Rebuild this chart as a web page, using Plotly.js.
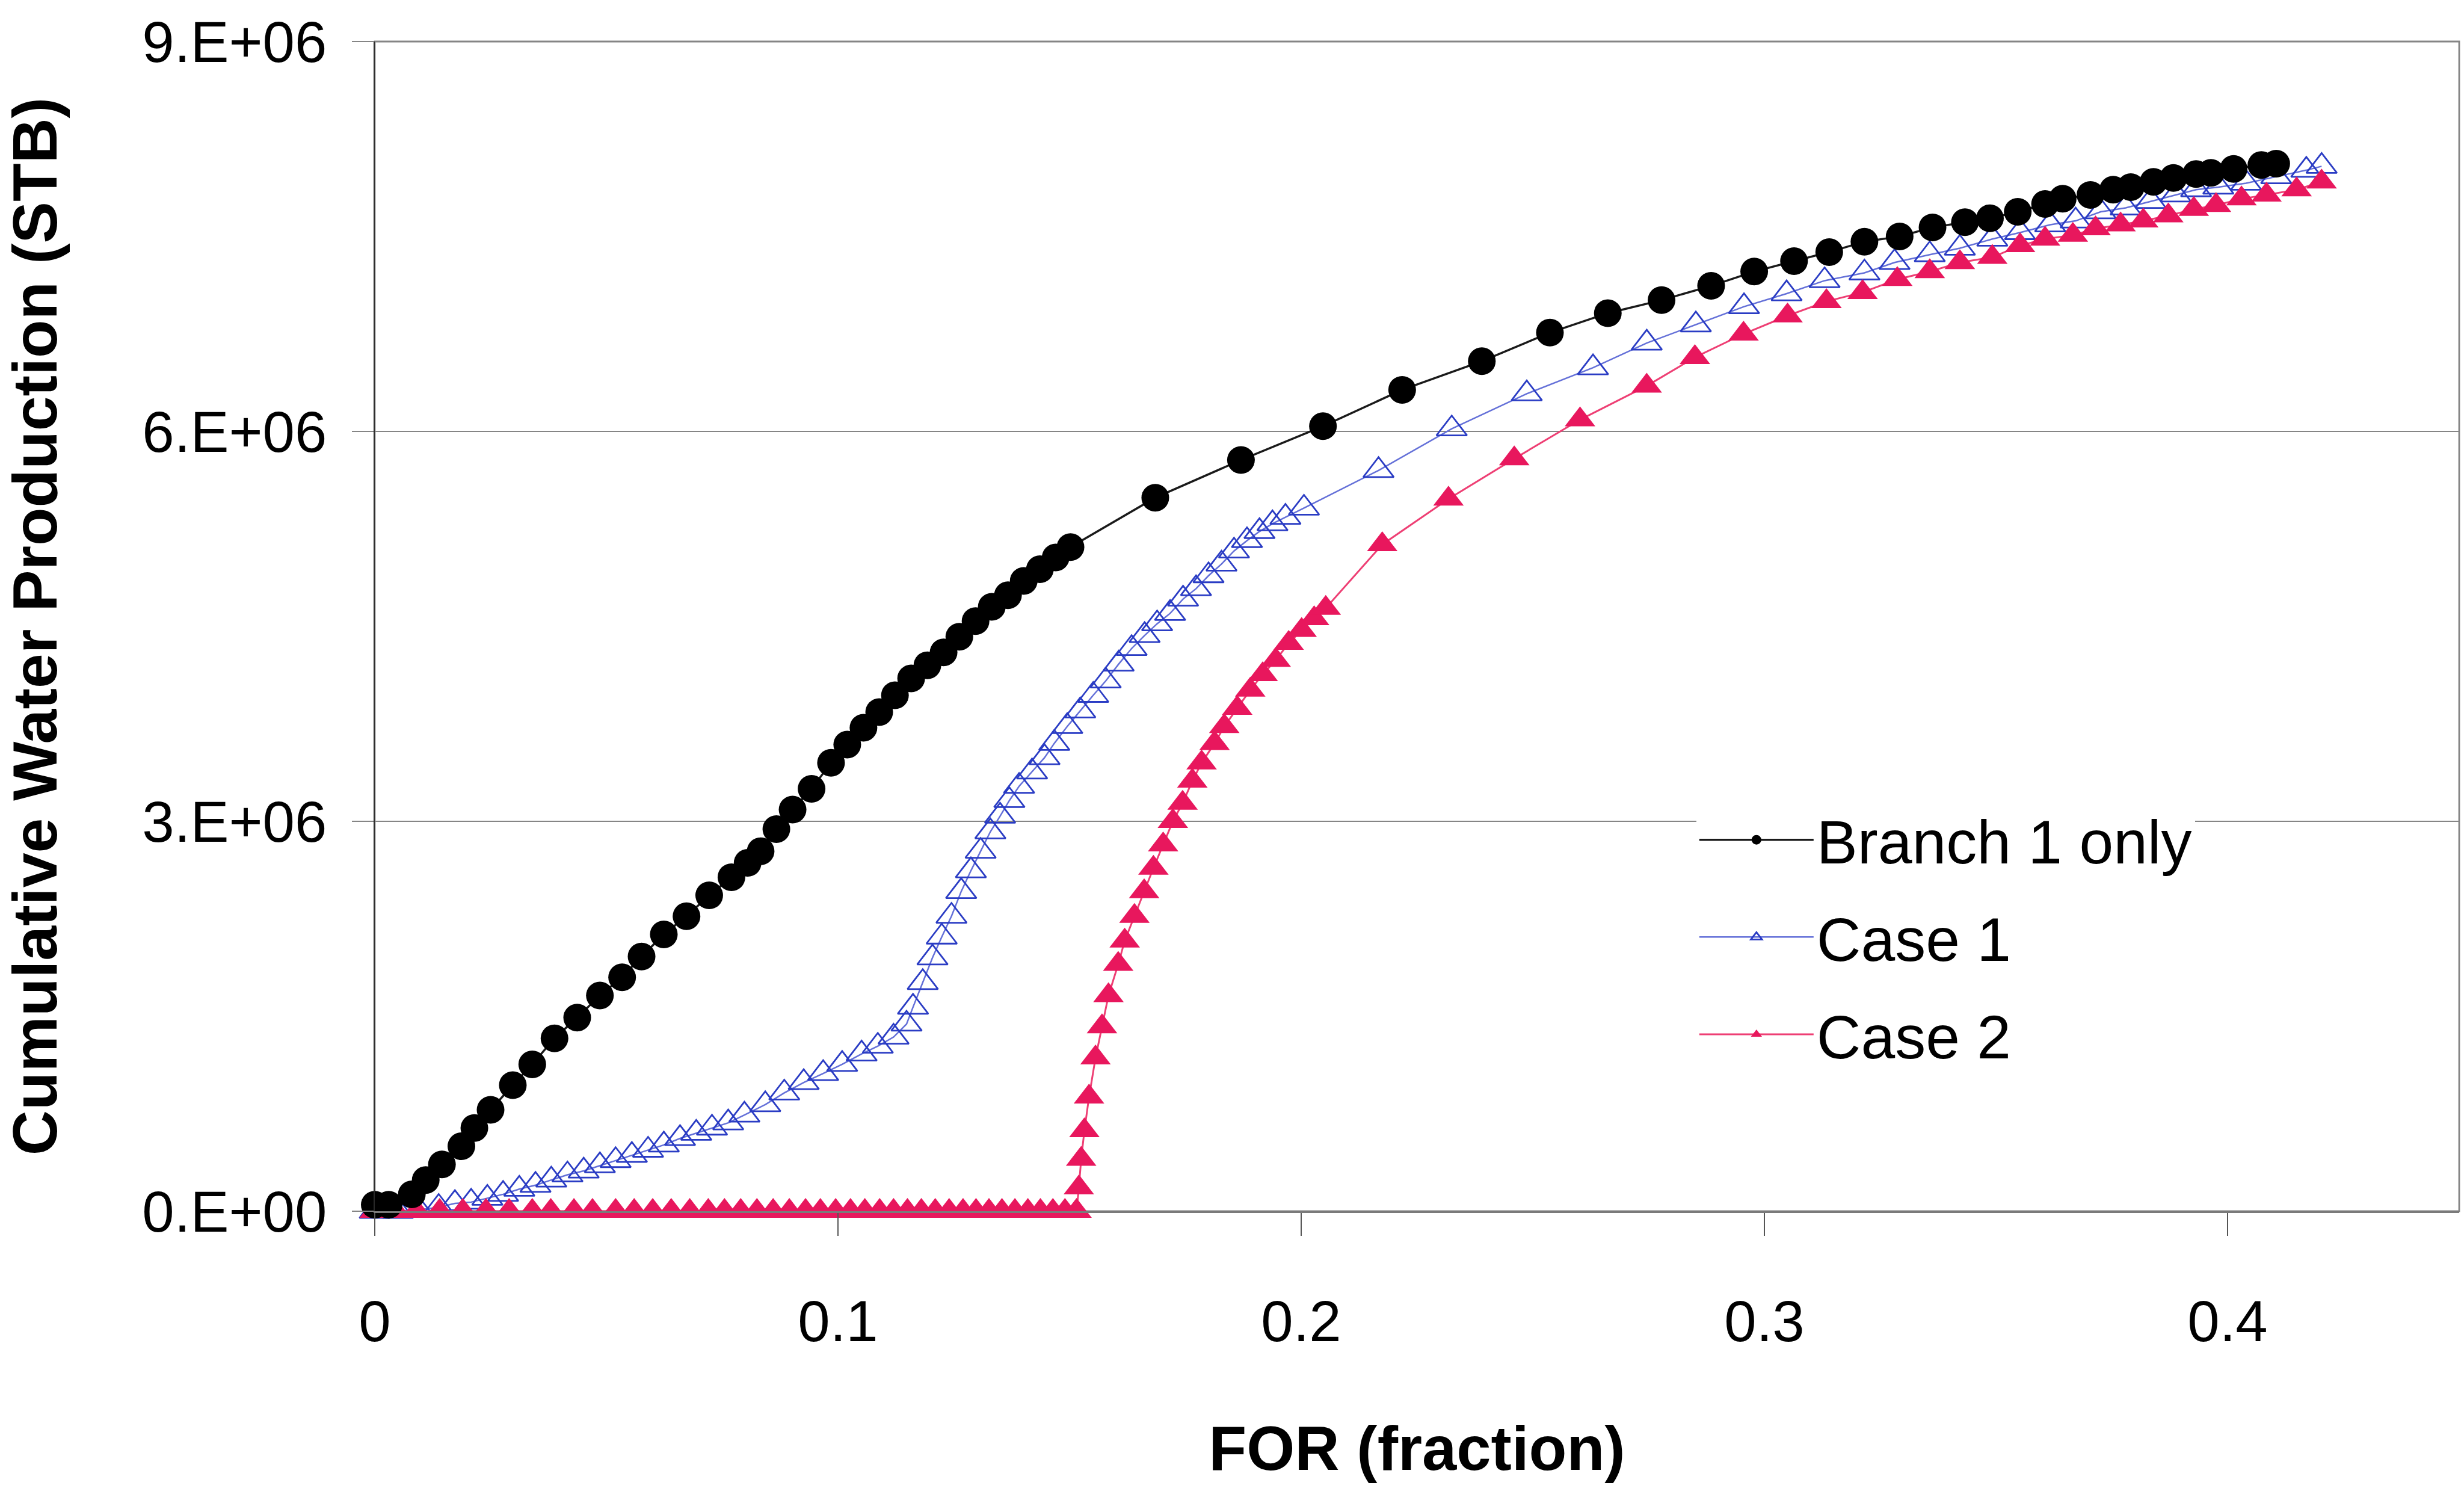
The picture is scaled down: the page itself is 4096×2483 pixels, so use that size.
<!DOCTYPE html>
<html>
<head>
<meta charset="utf-8">
<script src="https://cdn.plot.ly/plotly-3.0.1.min.js"></script>
<style>
html, body { margin: 0; padding: 0; background: #ffffff; }
#chart { width: 4096px; height: 2483px; }
</style>
</head>
<body>
<div id="chart"></div>
<script>
// ---- data ----
const seriesNames = ['Branch 1 only', 'Case 1', 'Case 2'];

const branch1X = [0, 0.003, 0.008, 0.011, 0.0145, 0.0187, 0.0215, 0.025, 0.0298, 0.034,
  0.0388, 0.0437, 0.0486, 0.0534, 0.0576, 0.0624, 0.0673, 0.0722, 0.077, 0.0805,
  0.0833, 0.0867, 0.0902, 0.0943, 0.0985, 0.102, 0.1055, 0.1089, 0.1123, 0.1158,
  0.1193, 0.1228, 0.1262, 0.1297, 0.1332, 0.1367, 0.1401, 0.1436, 0.147, 0.1502,
  0.1685, 0.187, 0.2047, 0.2218, 0.239, 0.2537, 0.2662, 0.2778, 0.2885, 0.2978,
  0.3064, 0.314, 0.3216, 0.3292, 0.3363, 0.3433, 0.3487, 0.3547, 0.3606, 0.3644,
  0.3704, 0.3753, 0.3791, 0.384, 0.3883, 0.3932, 0.3964, 0.4013, 0.4073, 0.4105];
const branch1Y = [0.05e6, 0.05e6, 0.13e6, 0.24e6, 0.36e6, 0.50e6, 0.64e6, 0.78e6, 0.97e6, 1.13e6,
  1.33e6, 1.49e6, 1.66e6, 1.80e6, 1.96e6, 2.13e6, 2.27e6, 2.43e6, 2.57e6, 2.68e6,
  2.77e6, 2.94e6, 3.09e6, 3.25e6, 3.45e6, 3.59e6, 3.72e6, 3.84e6, 3.97e6, 4.10e6,
  4.20e6, 4.30e6, 4.42e6, 4.54e6, 4.65e6, 4.74e6, 4.85e6, 4.94e6, 5.03e6, 5.11e6,
  5.49e6, 5.78e6, 6.04e6, 6.32e6, 6.54e6, 6.76e6, 6.91e6, 7.01e6, 7.12e6, 7.23e6,
  7.31e6, 7.38e6, 7.46e6, 7.50e6, 7.57e6, 7.61e6, 7.64e6, 7.69e6, 7.75e6, 7.79e6,
  7.82e6, 7.86e6, 7.88e6, 7.92e6, 7.95e6, 7.98e6, 7.99e6, 8.02e6, 8.05e6, 8.06e6];

const case1X = [0, 0.005, 0.0095, 0.0138, 0.0173, 0.0208, 0.0243, 0.0277, 0.0312, 0.0347,
  0.0381, 0.0416, 0.0451, 0.0486, 0.052, 0.0555, 0.059, 0.0624, 0.0659, 0.0694,
  0.0728, 0.0763, 0.0798, 0.0843, 0.0884, 0.0926, 0.0968, 0.1009, 0.1051, 0.1086,
  0.112, 0.1148, 0.1162, 0.1183, 0.1204, 0.1224, 0.1245, 0.1266, 0.1287, 0.1308,
  0.1329, 0.135, 0.137, 0.1391, 0.1419, 0.1446, 0.1467, 0.1495, 0.1523, 0.1551,
  0.1578, 0.1606, 0.1634, 0.1662, 0.1689, 0.1717, 0.1745, 0.1773, 0.18, 0.1828,
  0.1855, 0.1883, 0.191, 0.1938, 0.1966, 0.2006, 0.2167, 0.2325, 0.2487, 0.263,
  0.2746, 0.2852, 0.2956, 0.3048, 0.313, 0.3216, 0.3281, 0.3357, 0.3422, 0.3492,
  0.3552, 0.3617, 0.3672, 0.3726, 0.378, 0.3834, 0.3888, 0.3932, 0.398, 0.404,
  0.4105, 0.417, 0.4203];
const case1Y = [0, 0, 0.01e6, 0.03e6, 0.06e6, 0.07e6, 0.10e6, 0.13e6, 0.17e6, 0.20e6,
  0.24e6, 0.28e6, 0.31e6, 0.35e6, 0.39e6, 0.43e6, 0.47e6, 0.51e6, 0.56e6, 0.60e6,
  0.64e6, 0.68e6, 0.74e6, 0.82e6, 0.91e6, 0.99e6, 1.06e6, 1.13e6, 1.21e6, 1.27e6,
  1.34e6, 1.44e6, 1.57e6, 1.76e6, 1.95e6, 2.11e6, 2.27e6, 2.46e6, 2.62e6, 2.77e6,
  2.92e6, 3.04e6, 3.16e6, 3.27e6, 3.38e6, 3.49e6, 3.60e6, 3.73e6, 3.85e6, 3.97e6,
  4.08e6, 4.21e6, 4.33e6, 4.43e6, 4.52e6, 4.60e6, 4.71e6, 4.79e6, 4.89e6, 4.98e6,
  5.08e6, 5.16e6, 5.23e6, 5.29e6, 5.34e6, 5.41e6, 5.70e6, 6.02e6, 6.29e6, 6.49e6,
  6.68e6, 6.82e6, 6.96e6, 7.06e6, 7.16e6, 7.22e6, 7.30e6, 7.36e6, 7.41e6, 7.48e6,
  7.53e6, 7.59e6, 7.62e6, 7.69e6, 7.72e6, 7.77e6, 7.82e6, 7.86e6, 7.88e6, 7.91e6,
  7.96e6, 8.01e6, 8.04e6];

const case2X = [0, 0.0045, 0.009, 0.014, 0.019, 0.024, 0.029, 0.034, 0.038, 0.043,
  0.047, 0.052, 0.056, 0.06, 0.064, 0.068, 0.072, 0.0755, 0.079, 0.0825,
  0.086, 0.0895, 0.093, 0.0962, 0.0995, 0.1027, 0.1058, 0.109, 0.112, 0.115,
  0.118, 0.121, 0.124, 0.127, 0.1298, 0.1326, 0.1354, 0.1382, 0.141, 0.1437,
  0.1464, 0.149, 0.1515, 0.152, 0.1525, 0.1532, 0.1542, 0.1556, 0.157, 0.1584,
  0.1605, 0.1619, 0.164, 0.1661, 0.1681, 0.1702, 0.1723, 0.1744, 0.1765, 0.1785,
  0.1813, 0.1834, 0.1862, 0.189, 0.1917, 0.1945, 0.1973, 0.2001, 0.2028, 0.2053,
  0.2175, 0.2318, 0.246, 0.2602, 0.2746, 0.285, 0.2955, 0.305, 0.3134, 0.3212,
  0.3287, 0.3357, 0.3422, 0.3492, 0.3552, 0.3606, 0.3666, 0.3715, 0.3769, 0.3818,
  0.3872, 0.3927, 0.3975, 0.403, 0.4084, 0.4149, 0.4203];
const case2Y = [0, 0, 0, 0, 0, 0, 0, 0, 0, 0,
  0, 0, 0, 0, 0, 0, 0, 0, 0, 0,
  0, 0, 0, 0, 0, 0, 0, 0, 0, 0,
  0, 0, 0, 0, 0, 0, 0, 0, 0, 0,
  0, 0, 0, 0.18e6, 0.40e6, 0.62e6, 0.88e6, 1.18e6, 1.42e6, 1.66e6,
  1.90e6, 2.08e6, 2.27e6, 2.46e6, 2.64e6, 2.82e6, 3.00e6, 3.14e6, 3.31e6, 3.45e6,
  3.60e6, 3.73e6, 3.87e6, 4.01e6, 4.13e6, 4.24e6, 4.37e6, 4.47e6, 4.56e6, 4.64e6,
  5.13e6, 5.48e6, 5.79e6, 6.09e6, 6.35e6, 6.57e6, 6.75e6, 6.89e6, 7.00e6, 7.07e6,
  7.17e6, 7.23e6, 7.30e6, 7.34e6, 7.43e6, 7.48e6, 7.51e6, 7.56e6, 7.59e6, 7.62e6,
  7.66e6, 7.71e6, 7.74e6, 7.79e6, 7.82e6, 7.86e6, 7.92e6];

const xTickVals = [0, 0.1, 0.2, 0.3, 0.4];
const xTickText = ['0', '0.1', '0.2', '0.3', '0.4'];
const yTickVals = [0, 3e6, 6e6, 9e6];
const yTickText = ['0.E+00', '3.E+06', '6.E+06', '9.E+06'];

const xTitle = 'FOR (fraction)';
const yTitle = 'Cumulative Water Production (STB)';

// ---- styles ----
const FONT = 'Arial, "Liberation Sans", Helvetica, sans-serif';
const GRID = '#858585';

const traces = [
  {
    x: case1X, y: case1Y, name: seriesNames[1], type: 'scatter', mode: 'lines+markers',
    legendrank: 2, legendgroup: 'g2', cliponaxis: false,
    line: { color: '#6470d8', width: 2.5 },
    marker: { symbol: 'triangle-up-open', size: 44, color: '#2a3cc4', line: { width: 2.8, color: '#2a3cc4' } }
  },
  {
    x: case2X, y: case2Y, name: seriesNames[2], type: 'scatter', mode: 'lines+markers',
    legendrank: 3, legendgroup: 'g3', cliponaxis: false,
    line: { color: '#ee3f74', width: 3 },
    marker: { symbol: 'triangle-up', size: 44, color: '#e8175d', line: { width: 0 } }
  },
  {
    x: branch1X, y: branch1Y, name: seriesNames[0], type: 'scatter', mode: 'lines+markers',
    legendrank: 1, legendgroup: 'g1', cliponaxis: false,
    line: { color: '#1a1a1a', width: 3.5 },
    marker: { symbol: 'circle', size: 46, color: '#000000', line: { width: 0 } }
  }
];

const layout = {
  width: 4096, height: 2483,
  paper_bgcolor: '#ffffff', plot_bgcolor: '#ffffff',
  margin: { l: 623, r: 8, t: 69, b: 470, pad: 0 },
  font: { family: FONT, color: '#000000', size: 96 },
  showlegend: true,
  xaxis: {
    range: [0, 0.45], showgrid: false, zeroline: false,
    showline: true, linecolor: '#7a7a7a', linewidth: 3,
    ticks: 'outside', ticklen: 38, tickwidth: 2, tickcolor: '#555555',
    tickvals: xTickVals, ticktext: xTickText,
    tickfont: { family: FONT, size: 96, color: '#000000' },
    ticklabelstandoff: 60,
    title: { text: xTitle, font: { family: FONT, size: 103, color: '#000000', weight: 'bold' }, standoff: 123 }
  },
  yaxis: {
    range: [0, 9e6], zeroline: false,
    showgrid: true, gridcolor: GRID, gridwidth: 2.8,
    showline: true, linecolor: '#2a2a2a', linewidth: 2.5,
    ticks: 'outside', ticklen: 36, tickwidth: 2.8, tickcolor: GRID,
    tickvals: yTickVals, ticktext: yTickText,
    tickfont: { family: FONT, size: 96, color: '#000000' },
    ticklabelstandoff: 22,
    title: { text: yTitle, font: { family: FONT, size: 104, color: '#000000', weight: 'bold' }, standoff: 110 }
  },
  shapes: [
    { type: 'rect', xref: 'paper', yref: 'paper', x0: 0, x1: 1, y0: 0, y1: 1,
      line: { color: GRID, width: 2.8 }, layer: 'below' }
  ],
  legend: {
    x: 0.634, xanchor: 'left', y: 0.355, yanchor: 'top',
    bgcolor: '#ffffff', borderwidth: 0,
    font: { family: FONT, size: 102, color: '#000000' },
    itemwidth: 190, tracegroupgap: 26, traceorder: 'grouped'
  }
};

Plotly.newPlot('chart', traces, layout, { displayModeBar: false, staticPlot: true });
</script>
</body>
</html>
